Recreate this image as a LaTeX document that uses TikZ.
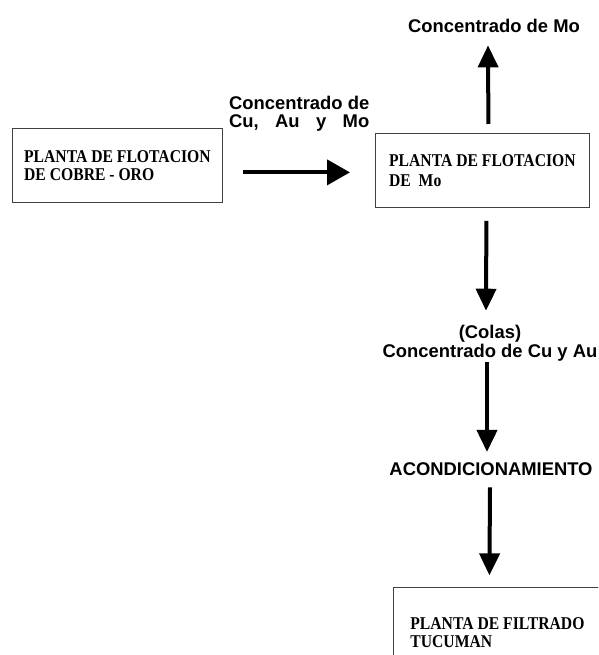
\documentclass[tikz,border=0pt]{standalone}
\usepackage{fontspec}
\newfontfamily\arialf{Liberation Sans}[BoldFont={Liberation Sans Bold}]
\newfontfamily\timesb{Liberation Serif Bold}[FakeStretch=0.87]
\usetikzlibrary{arrows.meta,calc}
\newlength\cwid
\tikzset{
  plantbox/.style={draw=black!75, line width=0.8pt, inner xsep=0pt, inner ysep=0pt,
    anchor=north west, align=left,
    font=\timesb\fontsize{18}{18}\selectfont},
  lbl/.style={inner sep=0pt, font=\arialf\bfseries\fontsize{18.4}{18}\selectfont},
  flow/.style={line width=4pt, -{Triangle[length=22pt,width=20pt]}},
}
\begin{document}
\begin{tikzpicture}[x=1pt,y=-1pt]
\useasboundingbox (0,0) rectangle (598,655);
\clip (0,0) rectangle (598,655);
\fill[white] (0,0) rectangle (598,655);

\node[plantbox, minimum width=210pt, minimum height=74pt] (cobre) at (12,128)
  {PLANTA DE FLOTACION\\DE COBRE - ORO};
\node[plantbox, minimum width=214pt, minimum height=74pt] (mo) at (375,133)
  {PLANTA DE FLOTACION\\[2pt]DE\ \ Mo};
\node[plantbox, inner xsep=17pt, minimum height=90pt] (filt) at (393,587)
  {PLANTA DE FILTRADO\\TUCUMAN};

\node[lbl, anchor=base] (cmo) at (494,33) {Concentrado de Mo};
\node[lbl, anchor=west, align=left] (cuaumo) at (229,114)
  {Concentrado de\\\settowidth{\cwid}{Concentrado de}\makebox[\cwid][l]{Cu,\hfill Au\hfill y\hfill Mo}};
\node[lbl, align=center, font=\arialf\bfseries\fontsize{18.4}{19}\selectfont] (colas) at (490,343)
  {(Colas)\\Concentrado de Cu y Au};
\node[lbl, anchor=base] (acond) at (491,475) {ACONDICIONAMIENTO};

\draw[flow, -{Triangle[length=23pt,width=25pt]}] ($(cobre.east)+(20,7)$) -- ($(mo.west)+(-25,2)$);
\draw[flow] ($(mo.north)+(6,-9)$) -- ($(cmo.south)+(-6,12)$);
\draw[flow] ($(mo.south)+(4,13)$) -- ($(colas.north)+(-4,-14)$);
\draw[flow] ($(colas.south)+(-3,1)$) -- ($(acond.north)+(-4,-10)$);
\draw[flow] ($(acond.south)+(-1,12)$) -- ($(filt.north |- acond.south)+(-8,100)$);
\end{tikzpicture}
\end{document}
